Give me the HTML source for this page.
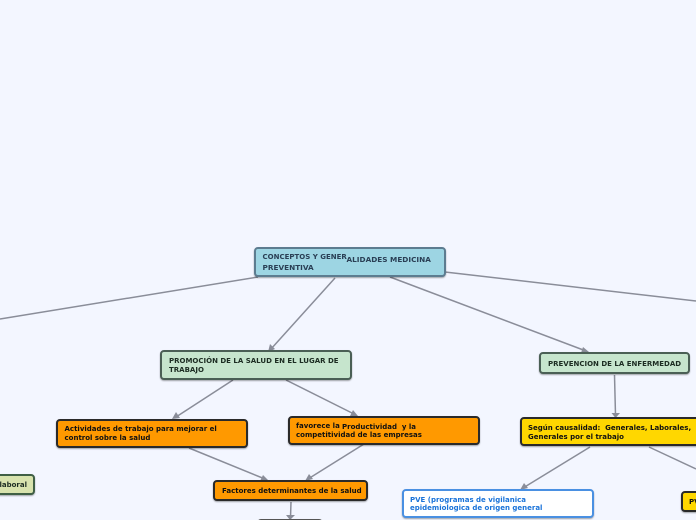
<!DOCTYPE html>
<html><head><meta charset="utf-8"><style>
html,body{margin:0;padding:0;width:696px;height:520px;overflow:hidden;background:#f3f6ff}
#w{position:relative;width:696px;height:520px;overflow:hidden;background:#f3f6ff}
.n{position:absolute;box-sizing:border-box;border-radius:4px;border:2px solid #2a2a2a;box-shadow:0 1px 1.5px rgba(0,0,0,.35);font:bold 7px/11px "DejaVu Sans",sans-serif;color:#111;white-space:nowrap}
.t{position:absolute;white-space:pre}
svg{position:absolute;left:0;top:0}
</style></head><body><div id="w">
<svg width="696" height="520" viewBox="0 0 696 520">
<g stroke="#8a8d99" stroke-width="1.5" fill="none">
<line x1="258" y1="277" x2="0" y2="319"/>
<line x1="335" y1="278" x2="271" y2="349"/>
<line x1="390" y1="277" x2="586" y2="351"/>
<line x1="445" y1="272" x2="696" y2="301"/>
<line x1="233" y1="380" x2="176" y2="417"/>
<line x1="286" y1="380" x2="354" y2="414"/>
<line x1="189" y1="448" x2="265" y2="479"/>
<line x1="364" y1="444" x2="308" y2="479"/>
<line x1="291" y1="502" x2="290.500" y2="518"/>
<line x1="614.500" y1="375" x2="615.500" y2="415"/>
<line x1="590" y1="447" x2="523" y2="488"/>
<line x1="649" y1="447" x2="696" y2="469"/>
</g>
<g fill="#8a8d99">
<polygon points="268,352 270,344 275,349"/>
<polygon points="172,419 176,412 180,418"/>
<polygon points="358,416 350,416 353,410"/>
<polygon points="268,480 260,481 263,475"/>
<polygon points="305,481 309,474 313,479"/>
<polygon points="290,520 286,515 295,515"/>
<polygon points="589,352 581,353 583,347"/>
<polygon points="615.500,418 611.500,413 620,413"/>
<polygon points="520,490 524,483 528,488"/>
</g>
</svg>

<div class="n" style="left:254px;top:247px;width:192px;height:30px;background:#9dd5e3;border-color:#5c7c90;color:#2a3f55;font-size:7.3px">
<span class="t" style="left:6.500px;top:3px;font-size:7px">CONCEPTOS Y GENER</span><span class="t" style="left:90.500px;top:4.500px">ALIDADES MEDICINA</span><span class="t" style="left:6.500px;top:12.500px">PREVENTIVA</span></div>

<div class="n" style="left:160px;top:350px;width:192px;height:30px;background:#c6e5cd;border-color:#4a5f55;color:#1c2c22">
<span class="t" style="left:7px;top:4px">PROMOCIÓN DE LA SALUD EN EL LUGAR DE</span><span class="t" style="left:7px;top:13px">TRABAJO</span></div>

<div class="n" style="left:539px;top:352px;width:151px;height:22px;background:#c6e5cd;border-color:#4a5f55;color:#1c2c22">
<span class="t" style="left:7px;top:5px">PREVENCION DE LA ENFERMEDAD</span></div>

<div class="n" style="left:56px;top:418.500px;width:192px;height:29px;background:#ff9900">
<span class="t" style="left:6.500px;top:3.500px">Actividades de trabajo para mejorar el</span><span class="t" style="left:6.500px;top:12.500px">control sobre la salud</span></div>

<div class="n" style="left:288px;top:416px;width:192px;height:29px;background:#ff9900">
<span class="t" style="left:6px;top:3px">favorece la</span><span class="t" style="left:52px;top:4px">Productividad  y la</span><span class="t" style="left:6px;top:12px">competitividad de las empresas</span></div>

<div class="n" style="left:213px;top:480px;width:155px;height:21px;background:#ff9900">
<span class="t" style="left:7px;top:3.500px">Factores determinantes de la salud</span></div>

<div class="n" style="left:520px;top:417px;width:190px;height:29px;background:#ffd700">
<span class="t" style="left:6px;top:3.500px">Según causalidad:  Generales, Laborales,</span><span class="t" style="left:6px;top:12.500px">Generales por el trabajo</span></div>

<div class="n" style="left:402px;top:488.500px;width:192px;height:29px;background:#fff;border-color:#4a90e2;color:#1a73d9">
<span class="t" style="left:6px;top:4px">PVE (programas de vigilanica</span><span class="t" style="left:6px;top:12px">epidemiologica de origen general</span></div>

<div class="n" style="left:-60px;top:474px;width:95px;height:21px;background:#d8e3ae;border-color:#3f5f45;color:#1c2c22">
<span class="t" style="right:6px;top:3.500px">laboral</span></div>

<div class="n" style="left:681px;top:491px;width:60px;height:21px;background:#ffd700">
<span class="t" style="left:6px;top:3.500px">PVE</span></div>

<div class="n" style="left:257px;top:519px;width:66px;height:20px;background:#ff9900;border-color:#555"></div>
</div></body></html>
